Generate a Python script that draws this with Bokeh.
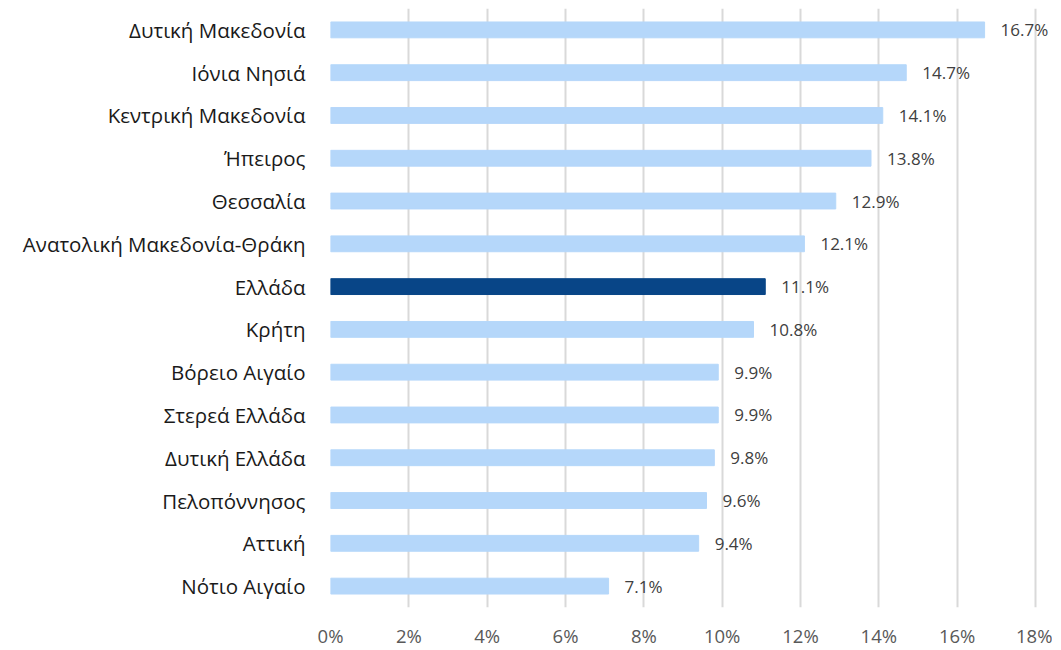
from bokeh.plotting import figure
from bokeh.models import ColumnDataSource, FactorRange, NumeralTickFormatter, FixedTicker, LabelSet
from bokeh.core.properties import value
from bokeh.embed import file_html
from bokeh.resources import INLINE

regions = ["Δυτική Μακεδονία", "Ιόνια Νησιά", "Κεντρική Μακεδονία", "Ήπειρος", "Θεσσαλία",
           "Ανατολική Μακεδονία-Θράκη", "Ελλάδα", "Κρήτη", "Βόρειο Αιγαίο", "Στερεά Ελλάδα",
           "Δυτική Ελλάδα", "Πελοπόννησος", "Αττική", "Νότιο Αιγαίο"]
values = [16.7, 14.7, 14.1, 13.8, 12.9, 12.1, 11.1, 10.8, 9.9, 9.9, 9.8, 9.6, 9.4, 7.1]
highlight = "Ελλάδα"
x_ticks = [0, 0.02, 0.04, 0.06, 0.08, 0.10, 0.12, 0.14, 0.16, 0.18]

FONT = "Open Sans"
colors = ["#084587" if r == highlight else "#b5d7fa" for r in regions]
src = ColumnDataSource(dict(
    region=regions,
    val=[v / 100 for v in values],
    color=colors,
    label=[f"{v:.1f}%" for v in values],
))

# axis spans 0..18% over 705px; frame extended to the right so the last label is not clipped
AXIS_PX = 705
FRAME_PX = 722
x_end = 0.18 * FRAME_PX / AXIS_PX

p = figure(frame_width=FRAME_PX, frame_height=599, output_backend="svg", toolbar_location=None,
           y_range=FactorRange(factors=list(reversed(regions))),
           x_range=(0, x_end),
           min_border_left=330, min_border_right=0, min_border_top=8, min_border_bottom=0)
p.outline_line_color = None
p.background_fill_color = "white"

p.hbar(y="region", right="val", left=0, height=0.37, color="color", source=src)
labels = LabelSet(x="val", y="region", text="label", source=src, x_offset=16,
                  text_align="left", text_baseline="middle", text_font=value(FONT),
                  text_font_size="17px", text_color="#404040")
p.add_layout(labels)

p.xaxis.ticker = FixedTicker(ticks=x_ticks)
p.xaxis.formatter = NumeralTickFormatter(format="0%")
p.xaxis.axis_line_color = None
p.xaxis.major_tick_line_color = None
p.xaxis.minor_tick_line_color = None
p.xaxis.major_label_standoff = 9
p.xaxis.major_label_text_font = FONT
p.xaxis.major_label_text_font_size = "18.5px"
p.xaxis.major_label_text_color = "#595959"

p.yaxis.axis_line_color = None
p.yaxis.major_tick_line_color = None
p.yaxis.minor_tick_line_color = None
p.yaxis.major_label_standoff = 19
p.yaxis.major_label_text_font = FONT
p.yaxis.major_label_text_font_size = "20.5px"
p.yaxis.major_label_text_color = "#1a1a1a"

p.ygrid.grid_line_color = None
p.xgrid.grid_line_color = "#d9d9d9"
p.xgrid.grid_line_width = 2

open("out.html", "w").write(file_html(p, INLINE))
